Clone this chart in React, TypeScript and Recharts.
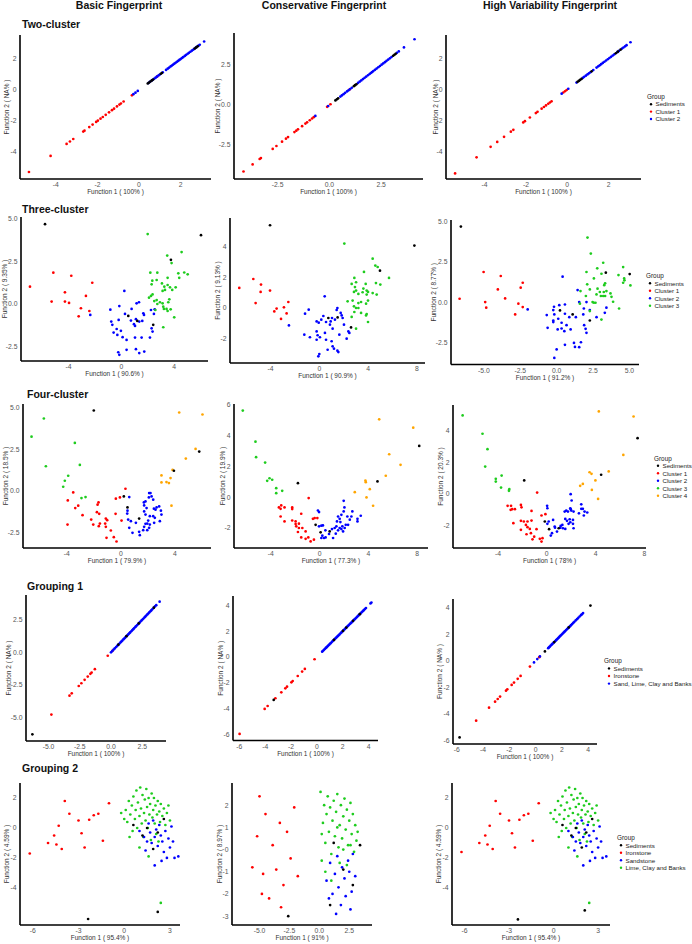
import React from 'react';
import { ScatterChart, Scatter, XAxis, YAxis } from 'recharts';

type P = [number, number];

// ---------- Column / row text ----------
const columnTitles = ['Basic Fingerprint', 'Conservative Fingerprint', 'High Variability Fingerprint'];
const rowTitles = ['Two-cluster', 'Three-cluster', 'Four-cluster', 'Grouping 1', 'Grouping 2'];

// ---------- Row 1: Two-cluster (Function 2 is NA, points lie on the diagonal) ----------
const r1c1Sed: P[] = [[0.42,0.42],[0.48,0.48],[0.55,0.55],[0.62,0.62],[0.68,0.68],[1.05,1.05],[1.1,1.1],[2.68,2.68],[2.75,2.75],[2.82,2.82]];
const r1c1C1: P[] = [[-5.29,-5.29],[-4.25,-4.25],[-3.48,-3.48],[-3.32,-3.32],[-3.16,-3.16],[-2.68,-2.68],[-2.62,-2.62],[-2.39,-2.39],[-2.23,-2.23],[-2.06,-2.06],[-1.98,-1.98],[-1.85,-1.85],[-1.74,-1.74],[-1.6,-1.6],[-1.44,-1.44],[-1.3,-1.3],[-1.2,-1.2],[-1.06,-1.06],[-0.94,-0.94],[-0.87,-0.87],[-0.74,-0.74],[-0.34,-0.34],[0.88,0.88]];
const r1c1C2: P[] = [[-0.27,-0.27],[-0.17,-0.17],[-0.06,-0.06],[0.45,0.45],[0.52,0.52],[0.6,0.6],[0.66,0.66],[0.74,0.74],[0.8,0.8],[0.86,0.86],[0.94,0.94],[1.0,1.0],[1.14,1.14],[1.3,1.3],[1.38,1.38],[1.45,1.45],[1.52,1.52],[1.58,1.58],[1.64,1.64],[1.7,1.7],[1.76,1.76],[1.82,1.82],[1.88,1.88],[1.94,1.94],[2.0,2.0],[2.06,2.06],[2.12,2.12],[2.2,2.2],[2.27,2.27],[2.34,2.34],[2.4,2.4],[2.47,2.47],[2.54,2.54],[2.6,2.6],[2.66,2.66],[2.72,2.72],[2.78,2.78],[2.86,2.86],[2.92,2.92],[3.13,3.13]];

const r1c2Sed: P[] = [[0.29,0.29],[0.36,0.36],[0.42,0.42],[1.18,1.18],[1.24,1.24],[1.3,1.3],[3.08,3.08],[3.14,3.14],[3.2,3.2]];
const r1c2C1: P[] = [[-4.15,-4.15],[-3.71,-3.71],[-3.37,-3.37],[-3.31,-3.31],[-2.74,-2.74],[-2.56,-2.56],[-2.29,-2.29],[-2.1,-2.1],[-2.0,-2.0],[-1.69,-1.69],[-1.6,-1.6],[-1.52,-1.52],[-1.32,-1.32],[-1.16,-1.16],[-1.08,-1.08],[-0.95,-0.95],[-0.84,-0.84],[-0.76,-0.76],[-0.11,-0.11],[0.05,0.05],[0.98,0.98]];
const r1c2C2: P[] = [[-0.68,-0.68],[-0.06,-0.06],[0.53,0.53],[0.6,0.6],[0.68,0.68],[0.76,0.76],[0.85,0.85],[0.92,0.92],[1.0,1.0],[1.08,1.08],[1.38,1.38],[1.46,1.46],[1.54,1.54],[1.62,1.62],[1.7,1.7],[1.78,1.78],[1.86,1.86],[1.94,1.94],[2.0,2.0],[2.06,2.06],[2.12,2.12],[2.2,2.2],[2.28,2.28],[2.36,2.36],[2.44,2.44],[2.52,2.52],[2.6,2.6],[2.68,2.68],[2.76,2.76],[2.84,2.84],[2.92,2.92],[3.0,3.0],[3.26,3.26],[3.35,3.35],[3.6,3.6],[4.11,4.11]];

const r1c3Sed: P[] = [[0.5,0.5],[0.56,0.56],[0.62,0.62],[0.69,0.69],[1.18,1.18],[2.35,2.35],[2.45,2.45],[2.58,2.58]];
const r1c3C1: P[] = [[-5.43,-5.43],[-4.39,-4.39],[-3.71,-3.71],[-3.39,-3.39],[-3.06,-3.06],[-2.73,-2.73],[-2.61,-2.61],[-2.13,-2.13],[-2.05,-2.05],[-1.81,-1.81],[-1.52,-1.52],[-1.44,-1.44],[-1.24,-1.24],[-1.13,-1.13],[-1.03,-1.03],[-0.92,-0.92],[-0.84,-0.84],[-0.76,-0.76],[-0.19,-0.19],[-0.11,-0.11],[-0.03,-0.03]];
const r1c3C2: P[] = [[-0.27,-0.27],[0.05,0.05],[0.45,0.45],[0.75,0.75],[0.82,0.82],[0.9,0.9],[0.98,0.98],[1.05,1.05],[1.12,1.12],[1.26,1.26],[1.42,1.42],[1.5,1.5],[1.57,1.57],[1.64,1.64],[1.72,1.72],[1.8,1.8],[1.88,1.88],[1.96,1.96],[2.04,2.04],[2.12,2.12],[2.2,2.2],[2.28,2.28],[2.42,2.42],[2.5,2.5],[2.65,2.65],[2.72,2.72],[2.8,2.8],[2.87,2.87],[3.06,3.06]];

// ---------- Row 2: Three-cluster ----------
const r2c1Sed: P[] = [[-5.78,4.66],[6.04,4.02],[3.76,2.58],[0.53,-0.7],[1.21,-0.99],[2.42,-1.22]];
const r2c1C1: P[] = [[-6.92,1.01],[-5.15,1.83],[-5.28,0.14],[-4.27,0.68],[-4.27,0.14],[-3.96,0.06],[-3.79,1.65],[-3.06,-0.25],[-3.23,-0.72],[-2.68,0.47],[-2.42,-0.41],[-2.2,1.24]];
const r2c1C2: P[] = [[-2.35,-0.64],[-0.83,-0.33],[0.23,0.76],[-0.15,-0.12],[-0.76,-1.03],[-0.68,-1.22],[-0.35,-1.46],[-0.2,-0.93],[-0.3,-1.81],[-0.58,-1.67],[-0.03,-1.57],[0.1,-1.94],[0.4,-2.1],[0.28,-0.58],[0.78,-0.29],[0.73,-0.97],[0.96,-1.18],[1.04,-1.28],[1.11,-0.89],[1.16,0.04],[1.34,0.1],[1.36,-1.03],[1.59,-0.99],[1.67,-0.54],[1.72,-0.64],[1.04,-1.96],[1.54,-1.96],[2.17,-1.96],[2.25,-0.35],[2.3,-1.42],[2.37,-1.61],[0.4,-2.68],[1.11,-2.64],[1.36,-2.87],[1.74,-2.78],[-0.23,-2.82],[-0.15,-2.97],[2.53,-0.31],[2.47,-0.58]];
const r2c1C3: P[] = [[2.0,4.08],[3.48,2.83],[4.57,3.03],[3.81,2.39],[2.2,1.83],[2.73,1.83],[4.77,1.84],[4.32,1.79],[5.03,1.73],[4.39,1.53],[2.35,1.36],[2.68,1.4],[3.51,1.53],[2.3,1.15],[3.08,1.2],[3.51,1.11],[3.69,0.97],[3.86,0.82],[4.12,0.97],[3.13,0.76],[3.31,0.82],[3.26,1.01],[2.37,0.56],[2.25,0.47],[2.1,0.37],[2.68,0.23],[2.5,0.17],[2.73,0.0],[2.93,0.1],[3.13,0.04],[3.18,-0.16],[3.23,-0.29],[3.43,-0.29],[3.64,0.27],[3.56,0.1],[3.74,-0.31],[3.51,-0.41],[4.01,-0.78],[3.18,-1.36],[2.58,-0.35]];

const r2c2Sed: P[] = [[-4.04,5.37],[7.79,4.05],[4.97,2.42],[0.74,-0.65],[1.5,-0.61],[2.6,-1.26]];
const r2c2C1: P[] = [[-6.56,1.3],[-5.41,1.88],[-4.78,1.52],[-4.81,1.04],[-4.04,1.13],[-5.22,0.32],[-3.69,-0.22],[-3.5,-0.04],[-2.9,0.04],[-2.54,0.39],[-3.14,-0.71],[-2.68,-0.35]];
const r2c2C2: P[] = [[-2.49,-1.13],[-1.17,-0.37],[-0.87,-0.11],[0.44,0.76],[0.33,-0.52],[-0.22,-0.87],[-0.05,-0.95],[0.16,-0.76],[0.55,-0.91],[0.93,-0.87],[1.04,-0.65],[0.87,-1.08],[1.28,-0.76],[1.48,0.0],[1.42,-0.13],[1.75,-0.32],[1.83,-0.48],[1.91,-0.65],[2.02,-1.08],[1.09,-1.34],[1.64,-1.73],[2.38,-1.52],[2.46,-1.62],[2.24,-1.99],[-1.23,-1.73],[-0.77,-1.9],[-0.22,-1.52],[-0.14,-1.77],[0.05,-1.9],[-0.22,-2.06],[0.46,-1.62],[0.55,-2.06],[1.01,-2.16],[1.09,-2.49],[1.2,-2.64],[1.48,-2.77],[1.56,-2.86],[0.68,-2.71],[0.0,-2.99],[-0.08,-3.14]];
const r2c2C3: P[] = [[2.05,4.18],[4.37,3.2],[3.66,2.34],[4.59,2.75],[4.78,2.66],[5.71,1.95],[2.87,1.95],[2.65,1.56],[3.01,1.67],[3.8,1.56],[4.64,1.62],[5.0,1.52],[2.92,1.36],[3.61,1.26],[3.88,1.13],[3.01,1.13],[2.84,1.04],[3.2,0.91],[3.55,1.02],[3.99,1.04],[4.37,0.97],[4.7,0.87],[3.88,0.87],[2.32,0.43],[2.73,0.48],[3.2,0.32],[3.42,0.39],[3.83,0.28],[3.99,0.48],[2.84,0.11],[3.01,0.0],[3.2,0.0],[2.87,-0.26],[3.42,-0.32],[3.88,-0.39],[3.83,-0.48],[2.65,-0.58],[3.99,-0.91],[3.01,-1.34]];

const r2c3Sed: P[] = [[-6.58,4.72],[3.38,1.84],[5.02,1.75],[0.23,-0.52],[1.1,-0.77],[2.28,-1.15]];
const r2c3C1: P[] = [[-6.67,0.21],[-5.02,1.88],[-3.84,1.63],[-4.04,0.79],[-4.91,0.0],[-4.84,-0.35],[-3.54,0.23],[-2.33,1.21],[-2.47,0.9],[-2.63,-0.1],[-2.33,-0.31],[-2.85,-0.77]];
const r2c3C2: P[] = [[-1.99,-0.46],[0.41,1.59],[1.44,0.75],[1.55,0.0],[2.05,0.0],[0.57,-0.15],[0.18,-0.19],[-0.18,-0.29],[-0.23,-0.5],[-0.68,-0.81],[-0.16,-0.77],[0.11,-1.04],[0.57,-0.73],[0.87,-0.94],[1.32,-0.94],[1.83,-0.77],[1.87,-0.4],[2.28,-0.5],[2.74,-0.94],[3.31,-0.67],[3.42,-0.35],[-0.23,-1.15],[-0.23,-1.25],[0.34,-1.29],[0.68,-1.44],[0.96,-1.71],[0.07,-1.71],[0.34,-1.65],[0.53,-1.82],[-0.62,-1.61],[1.89,-1.44],[1.99,-1.67],[2.05,-1.92],[1.19,-2.55],[1.26,-2.8],[1.55,-2.82],[1.67,-2.51],[0.57,-2.67],[0.0,-2.96],[-0.16,-3.49]];
const r2c3C3: P[] = [[2.12,4.03],[2.35,3.03],[3.2,2.46],[4.57,2.19],[2.79,2.11],[3.08,1.77],[2.05,1.88],[2.56,1.48],[4.25,1.69],[4.64,1.48],[4.66,1.36],[4.57,1.21],[5.07,1.04],[2.1,1.11],[3.33,1.17],[3.27,1.06],[2.28,0.79],[2.81,0.84],[1.64,0.69],[2.97,0.63],[3.24,0.63],[3.42,0.69],[3.7,0.54],[2.01,0.38],[2.74,0.48],[3.04,0.38],[3.2,0.38],[3.33,0.38],[3.77,0.33],[1.6,-0.1],[2.47,0.0],[2.56,-0.04],[2.67,-0.04],[3.88,0.02],[4.29,-0.4],[2.28,-0.56],[3.08,-1.09]];

// ---------- Row 3: Four-cluster ----------
const r3c1Sed: P[] = [[-2.0,4.82],[5.79,2.35],[3.92,1.2],[0.22,-0.34],[0.49,-1.0],[1.35,-1.67]];
const r3c1C1: P[] = [[-3.52,-0.1],[-3.92,-0.58],[-3.15,-0.9],[-3.37,-1.04],[-2.83,-1.47],[-3.94,-2.03],[-1.65,-0.7],[-1.72,-0.84],[-1.77,-1.29],[-1.6,-1.39],[-2.19,-1.73],[-2.04,-2.03],[-1.63,-2.13],[-1.55,-1.97],[-1.11,-1.67],[-1.01,-1.77],[-1.16,-1.97],[-1.11,-2.17],[-1.06,-2.83],[-0.74,-2.39],[-0.52,-2.79],[-0.32,-3.05],[-0.39,-1.39],[-0.37,-0.48],[-0.07,-0.4],[0.34,0.12],[0.05,-1.79]];
const r3c1C2: P[] = [[0.49,-1.2],[0.62,-0.38],[0.47,-1.37],[0.54,-1.73],[0.74,-1.83],[0.62,-2.23],[0.86,-2.53],[1.11,-1.93],[1.35,-2.47],[1.4,-2.67],[1.65,-2.37],[1.72,-2.17],[1.82,-1.99],[1.95,-1.97],[2.02,-1.79],[1.82,-1.43],[1.72,-1.24],[1.7,-0.7],[1.72,-0.88],[1.82,-0.64],[1.9,-1.04],[2.09,-0.14],[2.19,-0.14],[2.27,-0.34],[2.39,-0.54],[2.07,-0.4],[2.44,-1.08],[2.56,-1.14],[2.64,-1.0],[2.39,-1.53],[2.51,-1.63],[2.83,-0.94],[2.96,-1.2],[3.0,-1.43],[2.88,-1.83],[2.46,-1.93],[2.14,-2.03],[2.09,-2.23],[1.95,-2.37],[2.14,-1.53]];
const r3c1C3: P[] = [[-5.69,4.34],[-6.6,3.25],[-3.4,2.87],[-5.54,1.47],[-3.03,1.55],[-3.89,0.9],[-4.14,0.6],[-4.26,0.24],[-2.91,-0.44],[-2.61,-0.38]];
const r3c1C4: P[] = [[4.31,4.7],[6.03,4.58],[5.52,2.51],[4.8,1.93],[3.0,0.92],[3.82,1.25],[3.67,0.76],[3.0,0.5],[3.37,0.52],[3.55,0.46],[3.74,-0.9]];

const r3c2Sed: P[] = [[-1.78,0.91],[8.16,3.33],[4.74,1.02],[-0.33,-1.8],[0.08,-2.29],[0.82,-2.23]];
const r3c2C1: P[] = [[-0.9,-0.06],[-3.34,-0.67],[-3.15,-0.54],[-3.2,-0.76],[-2.88,-0.67],[-2.25,-0.67],[-2.25,-0.78],[-1.51,-1.08],[-3.2,-1.26],[-2.88,-1.58],[-2.25,-1.52],[-1.97,-1.58],[-1.97,-1.75],[-1.7,-1.73],[-1.92,-1.9],[-1.7,-2.01],[-1.42,-2.01],[-1.78,-2.27],[-1.15,-2.23],[-1.51,-2.62],[-1.15,-2.71],[-0.93,-2.62],[-0.74,-2.88],[-0.47,-2.77],[-0.41,-1.36],[-0.19,-1.36],[-0.55,-1.41]];
const r3c2C2: P[] = [[-0.14,-0.87],[-0.05,-0.97],[-0.05,-1.9],[0.14,-1.86],[0.27,-1.84],[0.47,-2.16],[0.22,-2.51],[0.36,-2.66],[0.49,-2.62],[0.14,-2.66],[0.77,-2.4],[1.01,-2.08],[1.1,-2.66],[1.23,-2.01],[1.37,-1.9],[1.32,-2.38],[1.51,-2.16],[1.64,-2.01],[1.78,-2.08],[1.86,-1.9],[1.92,-2.23],[2.05,-2.01],[2.14,-1.8],[1.97,-0.93],[2.03,-0.67],[1.97,-0.24],[1.51,-1.26],[1.64,-1.41],[1.78,-1.15],[2.27,-1.26],[2.47,-1.47],[2.68,-0.93],[2.6,-1.26],[3.1,-1.41],[3.1,-1.58],[3.37,-1.21],[2.33,-1.8],[1.42,-1.58],[1.7,-1.62]];
const r3c2C3: P[] = [[-6.3,5.63],[-5.26,3.61],[-5.21,2.6],[-4.47,2.25],[-4.11,1.23],[-4.3,1.06],[-3.89,1.13],[-3.56,0.58],[-3.56,0.26],[-3.07,0.41]];
const r3c2C4: P[] = [[4.88,5.06],[7.67,4.52],[5.7,2.79],[6.63,2.1],[5.42,1.39],[3.75,1.08],[3.78,0.97],[4.11,0.52],[2.88,0.32],[3.84,-0.02],[4.38,-0.56]];

const r3c3Sed: P[] = [[-1.85,0.85],[7.45,3.53],[4.46,1.21],[-0.16,-1.75],[0.19,-2.24],[0.98,-2.18]];
const r3c3C1: P[] = [[-0.79,0.08],[-3.21,-0.76],[-2.93,-0.76],[-2.12,-0.7],[-2.07,-0.85],[-2.83,-0.97],[-2.96,-1.01],[-2.61,-0.97],[-1.25,-1.08],[-2.74,-1.86],[-2.12,-1.71],[-1.88,-1.75],[-1.58,-1.75],[-1.25,-1.69],[-1.71,-1.97],[-1.58,-2.11],[-1.39,-2.22],[-2.12,-2.28],[-0.84,-2.24],[-1.3,-2.49],[-1.66,-2.56],[-1.03,-2.71],[-1.17,-2.88],[-0.57,-2.85],[-0.43,-3.02],[-0.35,-2.81],[-0.43,-1.37],[-0.11,-1.29]];
const r3c3C2: P[] = [[0.03,-0.76],[0.05,-0.91],[0.05,-1.9],[0.16,-1.75],[0.52,-1.65],[0.68,-2.14],[0.43,-2.49],[0.33,-2.64],[0.65,-2.07],[0.84,-2.39],[1.11,-2.14],[1.14,-2.03],[1.28,-1.97],[1.33,-2.18],[1.52,-2.22],[1.52,-1.59],[1.66,-1.71],[1.79,-1.9],[1.93,-1.8],[2.15,-1.65],[2.15,-1.9],[2.2,-2.18],[1.47,-1.12],[1.6,-1.06],[1.74,-1.12],[1.93,-0.91],[2.01,-1.06],[2.2,-1.12],[1.96,-0.02],[2.04,-0.42],[1.96,-0.97],[2.64,-1.23],[2.83,-0.66],[2.96,-0.95],[2.83,-0.95],[3.1,-1.12],[3.32,-1.18],[3.04,-1.37],[1.88,-1.61]];
const r3c3C3: P[] = [[-6.9,4.97],[-5.27,3.81],[-4.86,2.83],[-5.05,1.73],[-3.7,1.16],[-4.18,0.95],[-4.18,0.78],[-3.75,0.4],[-3.07,0.3],[-3.1,0.19]];
const r3c3C4: P[] = [[4.27,5.22],[7.12,4.9],[6.28,2.47],[5.08,1.42],[3.51,1.37],[3.67,1.27],[3.99,0.85],[2.96,0.63],[2.74,0.51],[3.7,0.25],[4.21,-0.32]];

// ---------- Row 4: Grouping 1 (Function 2 is NA, diagonal) ----------
const r4c1Sed: P[] = [[-6.29,-6.29],[0.59,0.59],[1.24,1.24],[2.22,2.22],[3.43,3.43]];
const r4c1Iron: P[] = [[-4.77,-4.77],[-3.32,-3.32],[-3.14,-3.14],[-2.58,-2.58],[-2.37,-2.37],[-2.11,-2.11],[-1.86,-1.86],[-1.65,-1.65],[-1.55,-1.55],[-1.29,-1.29],[-0.26,-0.26],[0.13,0.13]];
const r4c1Sand: P[] = [[0.0,0.0],[0.1,0.1],[0.21,0.21],[0.3,0.3],[0.41,0.41],[0.5,0.5],[0.57,0.57],[0.66,0.66],[0.75,0.75],[0.82,0.82],[0.9,0.9],[0.99,0.99],[1.06,1.06],[1.13,1.13],[1.22,1.22],[1.31,1.31],[1.38,1.38],[1.46,1.46],[1.53,1.53],[1.62,1.62],[1.71,1.71],[1.78,1.78],[1.86,1.86],[1.95,1.95],[2.02,2.02],[2.1,2.1],[2.19,2.19],[2.26,2.26],[2.34,2.34],[2.43,2.43],[2.5,2.5],[2.58,2.58],[2.67,2.67],[2.74,2.74],[2.82,2.82],[2.91,2.91],[2.98,2.98],[3.06,3.06],[3.15,3.15],[3.22,3.22],[3.3,3.3],[3.41,3.41],[3.52,3.52],[3.62,3.62],[3.89,3.89]];

const r4c2Sed: P[] = [[-3.34,-3.34],[1.32,1.32],[2.02,2.02],[2.28,2.28],[2.8,2.8],[3.32,3.32]];
const r4c2Iron: P[] = [[-5.98,-5.98],[-4.04,-4.04],[-3.81,-3.81],[-3.21,-3.21],[-2.75,-2.75],[-2.44,-2.44],[-2.31,-2.31],[-1.97,-1.97],[-1.87,-1.87],[-1.48,-1.48],[-1.14,-1.14],[-0.93,-0.93],[-0.18,-0.18]];
const r4c2Sand: P[] = [[0.41,0.41],[0.48,0.48],[0.55,0.55],[0.63,0.63],[0.7,0.7],[0.76,0.76],[0.84,0.84],[0.9,0.9],[0.97,0.97],[1.05,1.05],[1.1,1.1],[1.18,1.18],[1.26,1.26],[1.32,1.32],[1.4,1.4],[1.47,1.47],[1.53,1.53],[1.61,1.61],[1.68,1.68],[1.75,1.75],[1.83,1.83],[1.9,1.9],[1.96,1.96],[2.04,2.04],[2.11,2.11],[2.18,2.18],[2.25,2.25],[2.33,2.33],[2.4,2.4],[2.47,2.47],[2.55,2.55],[2.62,2.62],[2.7,2.7],[2.77,2.77],[2.85,2.85],[2.92,2.92],[3.0,3.0],[3.08,3.08],[3.15,3.15],[3.22,3.22],[3.3,3.3],[3.38,3.38],[3.46,3.46],[3.55,3.55],[3.63,3.63],[3.72,3.72],[3.8,3.8],[4.15,4.15],[4.22,4.22]];

const r4c3Sed: P[] = [[-5.78,-5.78],[0.71,0.71],[1.42,1.42],[2.52,2.52],[4.17,4.17]];
const r4c3Iron: P[] = [[-4.52,-4.52],[-3.54,-3.54],[-3.08,-3.08],[-2.88,-2.88],[-2.7,-2.7],[-2.25,-2.25],[-2.15,-2.15],[-1.82,-1.82],[-1.64,-1.64],[-1.36,-1.36],[-1.14,-1.14],[-0.43,-0.43],[0.28,0.28]];
const r4c3Sand: P[] = [[-0.12,-0.12],[0.13,0.13],[0.33,0.33],[0.96,0.96],[1.02,1.02],[1.08,1.08],[1.15,1.15],[1.22,1.22],[1.28,1.28],[1.35,1.35],[1.42,1.42],[1.5,1.5],[1.56,1.56],[1.63,1.63],[1.7,1.7],[1.77,1.77],[1.84,1.84],[1.9,1.9],[1.97,1.97],[2.04,2.04],[2.11,2.11],[2.18,2.18],[2.25,2.25],[2.32,2.32],[2.4,2.4],[2.47,2.47],[2.55,2.55],[2.62,2.62],[2.7,2.7],[2.78,2.78],[2.86,2.86],[2.95,2.95],[3.05,3.05],[3.15,3.15],[3.25,3.25],[3.35,3.35],[3.45,3.45],[3.52,3.52],[3.61,3.61]];

// ---------- Row 5: Grouping 2 ----------
const r5c1Sed: P[] = [[-2.37,-6.07],[2.2,-5.6],[1.9,-1.4],[2.2,-0.3],[0.6,0.2],[1.5,0.0],[2.6,0.6],[1.2,-0.5]];
const r5c1Iron: P[] = [[-6.2,-1.7],[-5.0,-1.0],[-4.6,-0.5],[-4.45,-1.1],[-4.3,0.15],[-3.9,1.8],[-3.6,0.95],[-3.0,0.5],[-2.8,-0.35],[-2.6,-1.3],[-2.3,0.55],[-2.0,0.85],[-1.7,0.95],[-1.4,-0.85],[-1.0,1.65],[-4.1,-1.4]];
const r5c1Sand: P[] = [[1.0,-0.2],[1.3,-0.6],[1.5,-0.9],[1.6,0.3],[1.7,-0.3],[1.8,-1.0],[1.9,0.5],[2.0,-0.6],[2.1,-0.1],[2.2,-1.2],[2.3,0.2],[2.4,-0.5],[2.5,-0.9],[2.6,-1.6],[2.7,-0.2],[2.8,-2.0],[2.9,-0.7],[3.0,-1.3],[3.1,0.1],[3.3,-2.0],[2.0,-2.5],[1.4,-1.5],[2.45,-2.2],[3.2,-0.9],[3.55,-1.9]];
const r5c1Lime: P[] = [[0.1,1.2],[0.2,0.4],[0.3,1.8],[0.4,0.9],[0.5,1.5],[0.55,-0.2],[0.6,2.1],[0.7,0.6],[0.75,1.2],[0.8,2.5],[0.85,0.0],[0.9,1.7],[1.0,0.8],[1.05,2.7],[1.1,1.3],[1.15,0.3],[1.2,2.2],[1.25,-0.6],[1.3,1.0],[1.35,1.9],[1.4,0.5],[1.45,2.6],[1.5,1.4],[1.55,0.0],[1.6,2.0],[1.65,0.9],[1.7,1.6],[1.75,-0.8],[1.8,2.3],[1.85,0.7],[1.9,1.2],[1.95,2.0],[2.0,0.3],[2.05,1.5],[2.1,-0.4],[2.15,0.9],[2.2,1.8],[2.3,1.1],[2.35,0.4],[2.4,1.6],[2.5,0.8],[2.6,1.3],[2.7,0.2],[2.8,1.0],[2.9,1.5],[3.0,0.5],[0.0,0.6],[-0.2,1.0],[0.35,-0.6],[2.4,-5.0],[1.0,-1.3],[1.6,-1.9],[2.25,-0.9]];

const r5c2Sed: P[] = [[-2.6,-3.0],[2.0,-0.9],[2.8,-1.6],[3.4,0.2],[1.2,0.3],[0.9,-2.5]];
const r5c2Iron: P[] = [[-5.6,-0.8],[-5.2,0.6],[-5.0,2.4],[-4.7,-1.1],[-4.5,1.6],[-4.2,-2.2],[-3.9,0.2],[-3.6,-0.9],[-3.3,1.2],[-3.0,-1.6],[-2.7,0.8],[-2.4,-0.4],[-2.1,1.9],[-1.8,-1.2],[-4.8,-2.0],[-3.2,-2.6]];
const r5c2Sand: P[] = [[0.6,-1.4],[0.9,-0.6],[1.1,-2.0],[1.3,-1.1],[1.5,-0.3],[1.6,-1.7],[1.8,-2.5],[1.9,-0.8],[2.1,-1.3],[2.2,-2.1],[2.4,-0.5],[2.5,-1.0],[2.7,-1.9],[2.8,-0.2],[3.0,-1.2],[1.4,-2.9],[0.8,-2.2],[2.6,-2.7]];
const r5c2Lime: P[] = [[0.1,2.6],[0.3,1.2],[0.4,2.0],[0.5,0.3],[0.6,1.6],[0.7,2.4],[0.8,0.8],[0.9,1.9],[1.0,-0.2],[1.1,1.3],[1.2,2.2],[1.3,0.6],[1.4,1.7],[1.5,2.5],[1.6,0.1],[1.7,1.1],[1.8,2.0],[1.9,0.5],[2.0,1.5],[2.1,2.3],[2.2,0.9],[2.3,1.8],[2.4,0.2],[2.5,1.3],[2.6,2.1],[2.7,0.7],[2.8,1.6],[2.9,-0.1],[3.0,1.1],[3.1,0.4],[0.2,-0.5],[0.5,-1.0],[1.0,-1.4],[1.7,-0.6],[2.3,-0.7],[0.2,0.7],[1.5,1.0],[2.0,0.0],[2.6,0.2],[3.2,0.8]];

const r5c3Sed: P[] = [[-2.4,-6.1],[2.1,-5.5],[1.9,-1.3],[2.2,-0.3],[0.6,0.2],[1.5,0.0],[2.6,0.6],[1.2,-0.5]];
const r5c3Iron: P[] = [[-6.2,-1.6],[-5.0,-1.0],[-4.6,-0.5],[-4.45,-1.1],[-4.3,0.15],[-3.9,1.8],[-3.6,0.95],[-3.0,0.5],[-2.8,-0.35],[-2.6,-1.3],[-2.3,0.55],[-2.0,0.85],[-1.7,0.95],[-1.4,-0.85],[-1.0,1.65],[-4.1,-1.4]];
const r5c3Sand: P[] = [[1.0,-0.2],[1.3,-0.6],[1.5,-0.9],[1.6,0.3],[1.7,-0.3],[1.8,-1.0],[1.9,0.5],[2.0,-0.6],[2.1,-0.1],[2.2,-1.2],[2.3,0.2],[2.4,-0.5],[2.5,-0.9],[2.6,-1.6],[2.7,-0.2],[2.8,-2.0],[2.9,-0.7],[3.0,-1.3],[3.1,0.1],[3.3,-2.0],[2.0,-2.5],[1.4,-1.5],[2.45,-2.2],[3.2,-0.9],[3.55,-1.9]];
const r5c3Lime: P[] = [[0.1,1.2],[0.2,0.4],[0.3,1.8],[0.4,0.9],[0.5,1.5],[0.55,-0.2],[0.6,2.1],[0.7,0.6],[0.75,1.2],[0.8,2.5],[0.85,0.0],[0.9,1.7],[1.0,0.8],[1.05,2.7],[1.1,1.3],[1.15,0.3],[1.2,2.2],[1.25,-0.6],[1.3,1.0],[1.35,1.9],[1.4,0.5],[1.45,2.6],[1.5,1.4],[1.55,0.0],[1.6,2.0],[1.65,0.9],[1.7,1.6],[1.75,-0.8],[1.8,2.3],[1.85,0.7],[1.9,1.2],[1.95,2.0],[2.0,0.3],[2.05,1.5],[2.1,-0.4],[2.15,0.9],[2.2,1.8],[2.3,1.1],[2.35,0.4],[2.4,1.6],[2.5,0.8],[2.6,1.3],[2.7,0.2],[2.8,1.0],[2.9,1.5],[3.0,0.5],[0.0,0.6],[-0.2,1.0],[0.35,-0.6],[2.4,-5.0],[1.0,-1.3],[1.6,-1.9],[2.25,-0.9]];

// ---------- Axis titles ----------
const xTitles = [
  ['Function 1 ( 100% )', 'Function 1 ( 100% )', 'Function 1 ( 100% )'],
  ['Function 1 ( 90.6% )', 'Function 1 ( 90.9% )', 'Function 1 ( 91.2% )'],
  ['Function 1 ( 79.9% )', 'Function 1 ( 77.3% )', 'Function 1 ( 78% )'],
  ['Function 1 ( 100% )', 'Function 1 ( 100% )', 'Function 1 ( 100% )'],
  ['Function 1 ( 95.4% )', 'Function 1 ( 91% )', 'Function 1 ( 95.4% )'],
];
const yTitles = [
  ['Function 2 ( NA% )', 'Function 2 ( NA% )', 'Function 2 ( NA% )'],
  ['Function 2 ( 9.35% )', 'Function 2 ( 9.13% )', 'Function 2 ( 8.77% )'],
  ['Function 2 ( 18.5% )', 'Function 2 ( 19.9% )', 'Function 2 ( 20.3% )'],
  ['Function 2 ( NA% )', 'Function 2 ( NA% )', 'Function 2 ( NA% )'],
  ['Function 2 ( 4.59% )', 'Function 2 ( 8.97% )', 'Function 2 ( 4.59% )'],
];

// ---------- Legend labels ----------
const legendTwo = ['Sediments', 'Cluster 1', 'Cluster 2'];
const legendThree = ['Sediments', 'Cluster 1', 'Cluster 2', 'Cluster 3'];
const legendFour = ['Sediments', 'Cluster 1', 'Cluster 2', 'Cluster 3', 'Cluster 4'];
const legendG1 = ['Sediments', 'Ironstone', 'Sand, Lime, Clay and Banks'];
const legendG2 = ['Sediments', 'Ironstone', 'Sandstone', 'Lime, Clay and Banks'];

const BLACK = '#000000', RED = '#FF0000', BLUE = '#0000FF', GREEN = '#1ECC1E', ORANGE = '#FFA500';

interface Series { name: string; color: string; pts: P[] }
interface Panel {
  x0: number; x1: number; y0: number; y1: number;
  xd: [number, number]; yd: [number, number];
  xt: number[]; yt: number[]; xdec: number; ydec: number;
  xTitle: string; yTitle: string; gap: number;
  series: Series[];
}

const s = (name: string, color: string, pts: P[]): Series => ({ name, color, pts });

const panels: Panel[] = [
  // Row 1
  { x0: 20, x1: 211, y0: 35, y1: 179, xd: [-5.72, 3.46], yd: [-5.74, 3.55], xt: [-4, -2, 0, 2], yt: [-4, -2, 0, 2], xdec: 0, ydec: 0,
    xTitle: xTitles[0][0], yTitle: yTitles[0][0], gap: 13,
    series: [s('c1', RED, r1c1C1), s('c2', BLUE, r1c1C2), s('sed', BLACK, r1c1Sed)] },
  { x0: 234, x1: 423, y0: 33, y1: 179, xd: [-4.61, 4.52], yd: [-4.62, 4.5], xt: [-2.5, 0, 2.5], yt: [-2.5, 0, 2.5], xdec: 1, ydec: 1,
    xTitle: xTitles[0][1], yTitle: yTitles[0][1], gap: 16,
    series: [s('c1', RED, r1c2C1), s('c2', BLUE, r1c2C2), s('sed', BLACK, r1c2Sed)] },
  { x0: 446, x1: 641, y0: 35, y1: 179, xd: [-5.87, 3.57], yd: [-5.79, 3.53], xt: [-4, -2, 0, 2], yt: [-4, -2, 0, 2], xdec: 0, ydec: 0,
    xTitle: xTitles[0][2], yTitle: yTitles[0][2], gap: 10,
    series: [s('c1', RED, r1c3C1), s('c2', BLUE, r1c3C2), s('sed', BLACK, r1c3Sed)] },
  // Row 2
  { x0: 21, x1: 208, y0: 217, y1: 361, xd: [-7.6, 6.57], yd: [-3.33, 5.08], xt: [-4, 0, 4], yt: [-2.5, 0, 2.5, 5], xdec: 0, ydec: 1,
    xTitle: xTitles[1][0], yTitle: yTitles[1][0], gap: 16.5,
    series: [s('c1', RED, r2c1C1), s('c2', BLUE, r2c1C2), s('c3', GREEN, r2c1C3), s('sed', BLACK, r2c1Sed)] },
  { x0: 230, x1: 425, y0: 218, y1: 363, xd: [-7.32, 8.66], yd: [-3.57, 5.84], xt: [-4, 0, 4, 8], yt: [-2, 0, 2, 4], xdec: 0, ydec: 0,
    xTitle: xTitles[1][1], yTitle: yTitles[1][1], gap: 12,
    series: [s('c1', RED, r2c2C1), s('c2', BLUE, r2c2C2), s('c3', GREEN, r2c2C3), s('sed', BLACK, r2c2Sed)] },
  { x0: 451, x1: 639, y0: 219.5, y1: 364, xd: [-7.26, 5.66], yd: [-3.9, 5.13], xt: [-5, -2.5, 0, 2.5, 5], yt: [-2.5, 0, 2.5, 5], xdec: 1, ydec: 1,
    xTitle: xTitles[1][2], yTitle: yTitles[1][2], gap: 17.5,
    series: [s('c1', RED, r2c3C1), s('c2', BLUE, r2c3C2), s('c3', GREEN, r2c3C3), s('sed', BLACK, r2c3Sed)] },
  // Row 3
  { x0: 23, x1: 211, y0: 404, y1: 548, xd: [-7.23, 6.66], yd: [-3.44, 5.21], xt: [-4, 0, 4], yt: [-2.5, 0, 2.5, 5], xdec: 0, ydec: 1,
    xTitle: xTitles[2][0], yTitle: yTitles[2][0], gap: 17,
    series: [s('c1', RED, r3c1C1), s('c2', BLUE, r3c1C2), s('c3', GREEN, r3c1C3), s('c4', ORANGE, r3c1C4), s('sed', BLACK, r3c1Sed)] },
  { x0: 234, x1: 428, y0: 404, y1: 548, xd: [-7.02, 8.88], yd: [-3.31, 6.06], xt: [-4, 0, 4, 8], yt: [-2, 0, 2, 4, 6], xdec: 0, ydec: 0,
    xTitle: xTitles[2][1], yTitle: yTitles[2][1], gap: 11,
    series: [s('c1', RED, r3c2C1), s('c2', BLUE, r3c2C2), s('c3', GREEN, r3c2C3), s('c4', ORANGE, r3c2C4), s('sed', BLACK, r3c2Sed)] },
  { x0: 453, x1: 646, y0: 405, y1: 548, xd: [-7.69, 8.14], yd: [-3.43, 5.63], xt: [-4, 0, 4, 8], yt: [-2, 0, 2, 4], xdec: 0, ydec: 0,
    xTitle: xTitles[2][2], yTitle: yTitles[2][2], gap: 12,
    series: [s('c1', RED, r3c3C1), s('c2', BLUE, r3c3C2), s('c3', GREEN, r3c3C3), s('c4', ORANGE, r3c3C4), s('sed', BLACK, r3c3Sed)] },
  // Row 4
  { x0: 26, x1: 166, y0: 595, y1: 741, xd: [-6.8, 4.4], yd: [-6.8, 4.4], xt: [-5, -2.5, 0, 2.5], yt: [-5, -2.5, 0, 2.5], xdec: 1, ydec: 1,
    xTitle: xTitles[3][0], yTitle: yTitles[3][0], gap: 17,
    series: [s('iron', RED, r4c1Iron), s('sand', BLUE, r4c1Sand), s('sed', BLACK, r4c1Sed)] },
  { x0: 233, x1: 378, y0: 596, y1: 740.5, xd: [-6.49, 4.73], yd: [-6.49, 4.73], xt: [-6, -4, -2, 0, 2, 4], yt: [-6, -4, -2, 0, 2, 4], xdec: 0, ydec: 0,
    xTitle: xTitles[3][1], yTitle: yTitles[3][1], gap: 12.5,
    series: [s('iron', RED, r4c2Iron), s('sand', BLUE, r4c2Sand), s('sed', BLACK, r4c2Sed)] },
  { x0: 453, x1: 597, y0: 599, y1: 744, xd: [-6.28, 4.67], yd: [-6.28, 4.67], xt: [-6, -4, -2, 0, 2, 4], yt: [-6, -4, -2, 0, 2, 4], xdec: 0, ydec: 0,
    xTitle: xTitles[3][2], yTitle: yTitles[3][2], gap: 13.3,
    series: [s('iron', RED, r4c3Iron), s('sand', BLUE, r4c3Sand), s('sed', BLACK, r4c3Sed)] },
  // Row 5
  { x0: 20, x1: 180, y0: 783, y1: 925, xd: [-6.84, 3.66], yd: [-6.47, 3.0], xt: [-6, -3, 0, 3], yt: [-4, -2, 0, 2], xdec: 0, ydec: 0,
    xTitle: xTitles[4][0], yTitle: yTitles[4][0], gap: 13,
    series: [s('iron', RED, r5c1Iron), s('lime', GREEN, r5c1Lime), s('sand', BLUE, r5c1Sand), s('sed', BLACK, r5c1Sed)] },
  { x0: 232, x1: 372, y0: 783, y1: 925, xd: [-7.3, 4.4], yd: [-3.4, 3.0], xt: [-5, -2.5, 0, 2.5], yt: [-3, -2, -1, 0, 1, 2], xdec: 1, ydec: 0,
    xTitle: xTitles[4][1], yTitle: yTitles[4][1], gap: 12,
    series: [s('iron', RED, r5c2Iron), s('lime', GREEN, r5c2Lime), s('sand', BLUE, r5c2Sand), s('sed', BLACK, r5c2Sed)] },
  { x0: 452, x1: 610, y0: 783, y1: 925, xd: [-6.84, 3.8], yd: [-6.47, 3.0], xt: [-6, -3, 0, 3], yt: [-4, -2, 0, 2], xdec: 0, ydec: 0,
    xTitle: xTitles[4][2], yTitle: yTitles[4][2], gap: 13,
    series: [s('iron', RED, r5c3Iron), s('lime', GREEN, r5c3Lime), s('sand', BLUE, r5c3Sand), s('sed', BLACK, r5c3Sed)] },
];

interface LegendDef { x: number; y: number; dx: number; step: number; labels: string[]; colors: string[] }
const legends: LegendDef[] = [
  { x: 647, y: 99, dx: 4, step: 7.4, labels: legendTwo, colors: [BLACK, RED, BLUE] },
  { x: 646, y: 278, dx: 4, step: 7.5, labels: legendThree, colors: [BLACK, RED, BLUE, GREEN] },
  { x: 654, y: 460.5, dx: 4, step: 7.5, labels: legendFour, colors: [BLACK, RED, BLUE, GREEN, ORANGE] },
  { x: 604, y: 663, dx: 5, step: 7.6, labels: legendG1, colors: [BLACK, RED, BLUE] },
  { x: 617, y: 840, dx: 4, step: 7.5, labels: legendG2, colors: [BLACK, RED, BLUE, GREEN] },
];

const FONT = '"Liberation Sans", Arial, Helvetica, sans-serif';
const W = 30, H = 22, M = 4;

function fmt(dec: number) {
  return (v: number) => v.toFixed(dec);
}

function PanelChart({ p }: { p: Panel }) {
  const w = p.x1 - p.x0 + W + M;
  const h = p.y1 - p.y0 + M + H;
  return (
    <div style={{ position: 'absolute', left: p.x0 - W, top: p.y0 - M, width: w, height: h }}>
      <ScatterChart width={w} height={h} margin={{ top: M, right: M, bottom: 0, left: 0 }}>
        <XAxis type="number" dataKey="x" domain={p.xd} ticks={p.xt} allowDataOverflow interval={0}
          height={H} tickSize={2} tickMargin={1.5} tickLine={false}
          axisLine={{ stroke: '#000', strokeWidth: 1.6 }}
          tick={{ fontSize: 6.8, fill: '#555', fontFamily: FONT }} tickFormatter={fmt(p.xdec)}
          label={{ value: p.xTitle, position: 'insideBottom', offset: 7, fontSize: 6.5, fill: '#333', fontFamily: FONT }} />
        <YAxis type="number" dataKey="y" domain={p.yd} ticks={p.yt} allowDataOverflow interval={0}
          width={W} tickSize={2} tickMargin={1.5} tickLine={false}
          axisLine={{ stroke: '#000', strokeWidth: 1.6 }}
          tick={{ fontSize: 6.8, fill: '#555', fontFamily: FONT }} tickFormatter={fmt(p.ydec)}
          label={{ value: p.yTitle, angle: -90, position: 'insideLeft', offset: W - p.gap, fontSize: 6.5, fill: '#333', fontFamily: FONT, style: { textAnchor: 'middle' } }} />
        {p.series.map((sr) => (
          <Scatter key={sr.name} data={sr.pts.map(([x, y]) => ({ x, y }))} fill={sr.color} isAnimationActive={false}
            shape={(pp: any) => <circle cx={pp.cx} cy={pp.cy} r={1.35} fill={sr.color} />} />
        ))}
      </ScatterChart>
    </div>
  );
}

const colCenters = [119, 324, 550];
const rowTitlePos: [number, number][] = [[22, 27.5], [22, 212.5], [27, 398], [27, 589.5], [22, 772]];

export default function App() {
  return (
    <div style={{ position: 'absolute', left: 0, top: 0, width: 692, height: 944, background: '#fff', fontFamily: FONT, overflow: 'hidden' }}>
      {panels.map((p, i) => <PanelChart key={i} p={p} />)}
      <svg width={692} height={944} style={{ position: 'absolute', left: 0, top: 0, pointerEvents: 'none' }}>
        {columnTitles.map((t, i) => (
          <text key={t} x={colCenters[i]} y={8.6} textAnchor="middle" fontSize={10.5} fontWeight="bold" fontFamily={FONT} fill="#111">{t}</text>
        ))}
        {rowTitles.map((t, i) => (
          <text key={t} x={rowTitlePos[i][0]} y={rowTitlePos[i][1]} fontSize={10.5} fontWeight="bold" fontFamily={FONT} fill="#111">{t}</text>
        ))}
        {legends.map((lg, i) => (
          <g key={i}>
            <text x={lg.x} y={lg.y} fontSize={6.4} fontFamily={FONT} fill="#222">Group</text>
            {lg.labels.map((lab, j) => (
              <g key={lab}>
                <circle cx={lg.x + lg.dx} cy={lg.y + (j + 1) * lg.step - 2.2} r={1.2} fill={lg.colors[j]} />
                <text x={lg.x + lg.dx + 4.5} y={lg.y + (j + 1) * lg.step} fontSize={6.2} fontFamily={FONT} fill="#222">{lab}</text>
              </g>
            ))}
          </g>
        ))}
      </svg>
    </div>
  );
}
